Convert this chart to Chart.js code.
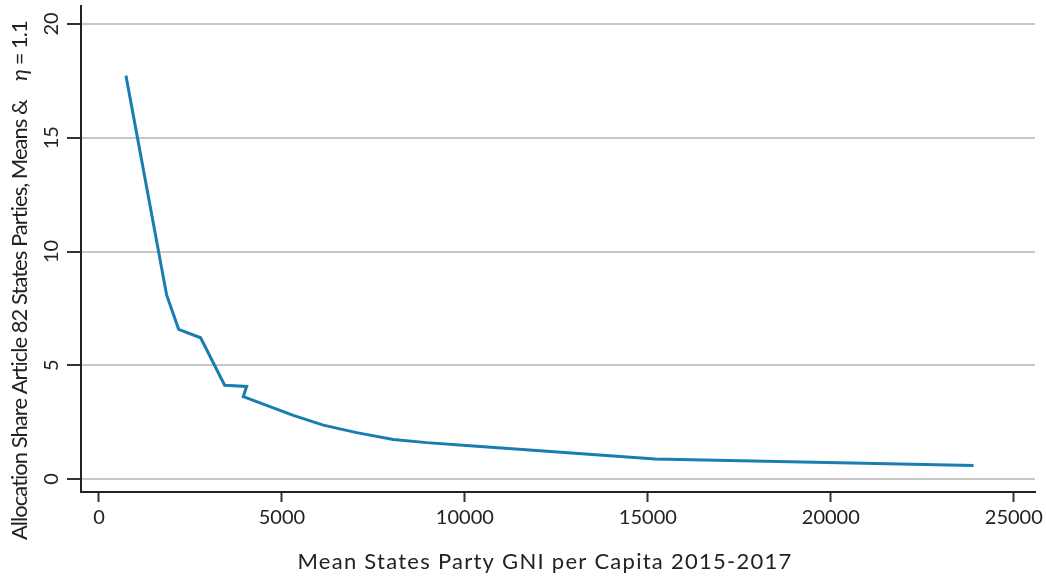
<!DOCTYPE html>
<html>
<head>
<meta charset="utf-8">
<script src="https://cdn.jsdelivr.net/npm/chart.js@4.4.0/dist/chart.umd.min.js"></script>
<style>
  html, body { margin: 0; padding: 0; background: #fff; }
  #wrap { width: 1046px; height: 579px; }
</style>
</head>
<body>
<div id="wrap"><canvas id="allocChart" width="1046" height="579"></canvas></div>
<script>
// Values
const gniPerCapita = [738, 1850, 2178, 2779, 3435, 4036, 3945, 4674, 5311, 6132, 7042, 8044, 8955, 9950, 15200, 23900];
const allocationShare = [17.73, 8.09, 6.58, 6.21, 4.12, 4.07, 3.62, 3.18, 2.80, 2.37, 2.04, 1.74, 1.60, 1.49, 0.88, 0.60];
const xTicks = [0, 5000, 10000, 15000, 20000, 25000];
const yTicks = [0, 5, 10, 15, 20];

const xTitle = 'Mean States Party GNI per Capita 2015-2017';
const yTitleParts = [
    { text: 'Allocation Share Article 82 States Parties, Means &  ', italic: false, gap: 0 },
    { text: 'η', italic: true, gap: 10 },
    { text: ' = 1.1', italic: false, gap: 0 }
];

const FONT = 'Lato, "Noto Sans", sans-serif';
const TEXT_COLOR = '#222';

// spread a run of text so it fills a target width (reference font is a wider Futura)
function spacingFor(ctx, parts, target) {
    let w = 0, n = 0;
    parts.forEach(p => {
        ctx.font = (p.italic ? 'italic ' : '') + '22px ' + FONT;
        w += ctx.measureText(p.text).width + (p.gap || 0);
        n += p.text.length;
    });
    return (target - w) / n;
}

// Draws axis titles (y title has an italic eta in it)
const axisTitles = {
    id: 'axisTitles',
    afterDraw(chart) {
        const ctx = chart.ctx;
        const hasLS = 'letterSpacing' in ctx;
        ctx.save();
        ctx.fillStyle = TEXT_COLOR;
        ctx.textBaseline = 'middle';
        ctx.textAlign = 'left';
        if (hasLS) ctx.letterSpacing = '0px';

        // x title, centred at 545
        const xs = spacingFor(ctx, [{ text: xTitle }], 495);
        if (hasLS) ctx.letterSpacing = xs + 'px';
        ctx.font = '22px ' + FONT;
        ctx.fillText(xTitle, 545 - 495 / 2, 562);

        // y title, rotated, from y=540 up to y=20
        if (hasLS) ctx.letterSpacing = '0px';
        const ys = spacingFor(ctx, yTitleParts, 520);
        if (hasLS) ctx.letterSpacing = ys + 'px';
        ctx.translate(20, 540);
        ctx.rotate(-Math.PI / 2);
        let cx = 0;
        yTitleParts.forEach(p => {
            ctx.font = (p.italic ? 'italic ' : '') + '22px ' + FONT;
            cx += p.gap || 0;
            ctx.fillText(p.text, cx, 0);
            cx += ctx.measureText(p.text).width;
        });
        ctx.restore();
    }
};

const points = gniPerCapita.map((x, i) => ({ x: x, y: allocationShare[i] }));

const noPad = s => { s.paddingTop = 0; s.paddingBottom = 0; s.paddingLeft = 0; s.paddingRight = 0; };

new Chart(document.getElementById('allocChart').getContext('2d'), {
    type: 'scatter',
    data: {
        datasets: [{
            data: points,
            showLine: true,
            borderColor: '#1a7db0',
            borderWidth: 3,
            pointRadius: 0,
            tension: 0,
            fill: false
        }]
    },
    options: {
        responsive: false,
        animation: false,
        layout: { padding: { top: 6, right: 11, left: 0, bottom: 0 } },
        plugins: { legend: { display: false }, tooltip: { enabled: false } },
        scales: {
            x: {
                type: 'linear',
                min: -490,
                max: 25580,
                afterBuildTicks: s => { s.ticks = xTicks.map(v => ({ value: v })); },
                afterFit: s => { s.height = 87; noPad(s); },
                grid: { drawOnChartArea: false, drawTicks: true, tickLength: 10, tickColor: '#333', tickWidth: 2 },
                border: { color: '#222', width: 2 },
                ticks: { color: TEXT_COLOR, font: { family: FONT, size: 20 }, padding: 4, maxRotation: 0,
                         callback: v => String(v) }
            },
            y: {
                type: 'linear',
                min: -0.57,
                max: 20.79,
                afterBuildTicks: s => { s.ticks = yTicks.map(v => ({ value: v })); },
                afterFit: s => { s.width = 81; noPad(s); },
                grid: { color: '#c8c8c8', lineWidth: 2, tickLength: 14, tickColor: '#333', tickWidth: 2 },
                border: { color: '#222', width: 2 },
                ticks: { color: TEXT_COLOR, font: { family: FONT, size: 20 }, padding: 4,
                         minRotation: 90, maxRotation: 90, crossAlign: 'center',
                         callback: v => String(v) }
            }
        }
    },
    plugins: [axisTitles]
});
</script>
</body>
</html>
